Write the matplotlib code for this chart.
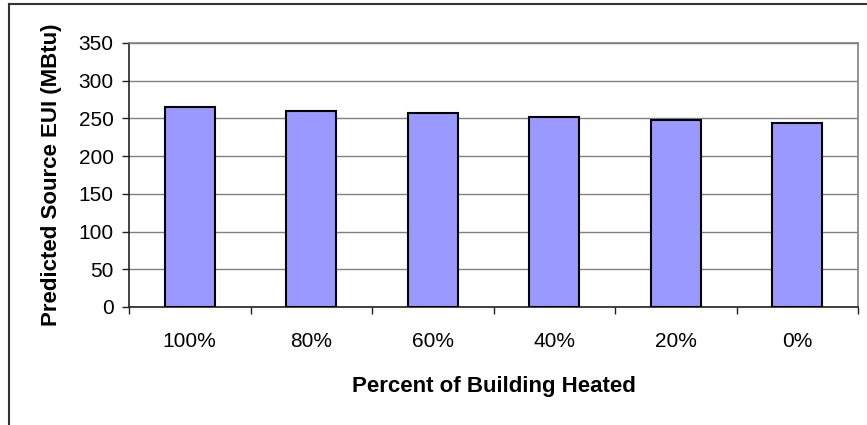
import matplotlib.pyplot as plt
from matplotlib.lines import Line2D

# datos
categorias = ['100%', '80%', '60%', '40%', '20%', '0%']
eui = [265, 260, 257, 252, 248, 244]
yticks = [0, 50, 100, 150, 200, 250, 300, 350]

plt.rcParams['font.family'] = ['Liberation Sans', 'DejaVu Sans']

fig = plt.figure(figsize=(8.67, 4.25), dpi=100)
ax = fig.add_axes([129 / 867, 1 - 307 / 425, (858 - 129) / 867, (307 - 43) / 425])

x = list(range(len(categorias)))
ax.bar(x, eui, width=0.41, color='#9999FF', edgecolor='black', linewidth=1.5, zorder=3)

ax.set_xlim(-0.5, len(categorias) - 0.5)
ax.set_ylim(0, 350)
ax.set_yticks(yticks)
ax.yaxis.grid(True, color='#808080', linewidth=1.0, zorder=0)

# ticks mayores en los limites de categoria, etiquetas en el centro
ax.set_xticks([i - 0.5 for i in range(len(categorias) + 1)])
ax.set_xticklabels([])
ax.set_xticks(x, minor=True)
ax.set_xticklabels(categorias, minor=True)
ax.tick_params(axis='x', which='minor', length=0, pad=18, labelsize=15)
ax.tick_params(axis='x', which='major', length=5, width=1, color='#222222')
ax.tick_params(axis='y', length=5, width=1, color='#222222', pad=6, labelsize=15)

for s in ['top', 'right']:
    ax.spines[s].set_color('#808080')
    ax.spines[s].set_linewidth(1.2)
for s in ['left', 'bottom']:
    ax.spines[s].set_color('#222222')
    ax.spines[s].set_linewidth(1.2)

ax.set_xlabel('Percent of Building Heated', fontsize=16, fontweight='bold', labelpad=18)
ax.set_ylabel('Predicted Source EUI (MBtu)', fontsize=16, fontweight='bold', labelpad=12)

# marco exterior
fig.add_artist(Line2D([9 / 867, 1], [1 - 4 / 425] * 2, color='#333333', lw=1.5))
fig.add_artist(Line2D([9 / 867] * 2, [0, 1 - 4 / 425], color='#333333', lw=1.5))

fig.savefig('out.png', dpi=100)
